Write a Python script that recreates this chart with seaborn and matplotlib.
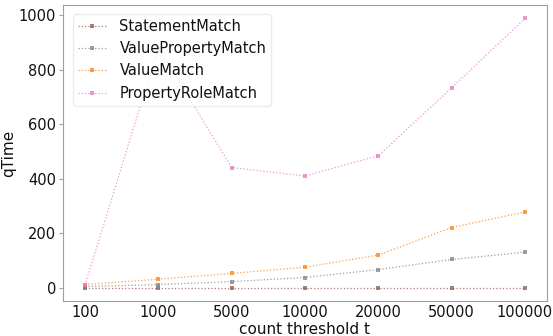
import matplotlib
matplotlib.use("Agg")
import matplotlib.pyplot as plt
import seaborn as sns
import pandas as pd

thresholds = ["100", "1000", "5000", "10000", "20000", "50000", "100000"]
statement_match = [1, 1, 1, 1, 1, 1, 1]
value_property_match = [5, 12, 23, 38, 67, 104, 131]
value_match = [12, 32, 53, 76, 120, 221, 278]
property_role_match = [10, 880, 441, 410, 484, 733, 987]

series = {
    "StatementMatch": statement_match,
    "ValuePropertyMatch": value_property_match,
    "ValueMatch": value_match,
    "PropertyRoleMatch": property_role_match,
}
colors = {
    "StatementMatch": "#8c564b",
    "ValuePropertyMatch": "#7f7f7f",
    "ValueMatch": "#ff7f0e",
    "PropertyRoleMatch": "#e377c2",
}

rows = []
for name, vals in series.items():
    for t, v in zip(thresholds, vals):
        rows.append({"t": t, "qTime": v, "method": name})
df = pd.DataFrame(rows)

sns.set_style("white")
plt.rcParams["font.family"] = ["DejaVu Sans"]
plt.rcParams["text.color"] = "#111111"
plt.rcParams["axes.labelcolor"] = "#111111"
plt.rcParams["xtick.labelcolor"] = "#111111"
plt.rcParams["ytick.labelcolor"] = "#111111"

fig = plt.figure(figsize=(5.53, 3.36), dpi=100)
ax = fig.add_axes([0.114, 0.104, 0.875, 0.881])

for name in series:
    sub = df[df["method"] == name]
    sns.lineplot(data=sub, x="t", y="qTime", ax=ax, color=colors[name],
                 linestyle=":", linewidth=0.9, marker="s", markersize=3,
                 markeredgewidth=0, alpha=0.75, label=name, sort=False)

ax.set_xlabel("count threshold t", fontsize=11, labelpad=1)
ax.set_ylabel("qTime", fontsize=11, labelpad=2)
ax.tick_params(axis="y", labelsize=10.5, length=3, width=0.8, color="#a0a0a0",
               left=True, pad=2)
ax.tick_params(axis="x", labelsize=10.5, length=0, pad=3)
ax.set_yticks([0, 200, 400, 600, 800, 1000])
for s in ax.spines.values():
    s.set_color("#a0a0a0")
leg = ax.legend(loc="upper left", fontsize=10.5, frameon=True, handlelength=2.0,
                borderpad=0.35, labelspacing=0.5, handletextpad=0.85,
                bbox_to_anchor=(0.005, 0.995))
leg.get_frame().set_edgecolor("#e6e6e6")

fig.savefig("out.png", dpi=100)
